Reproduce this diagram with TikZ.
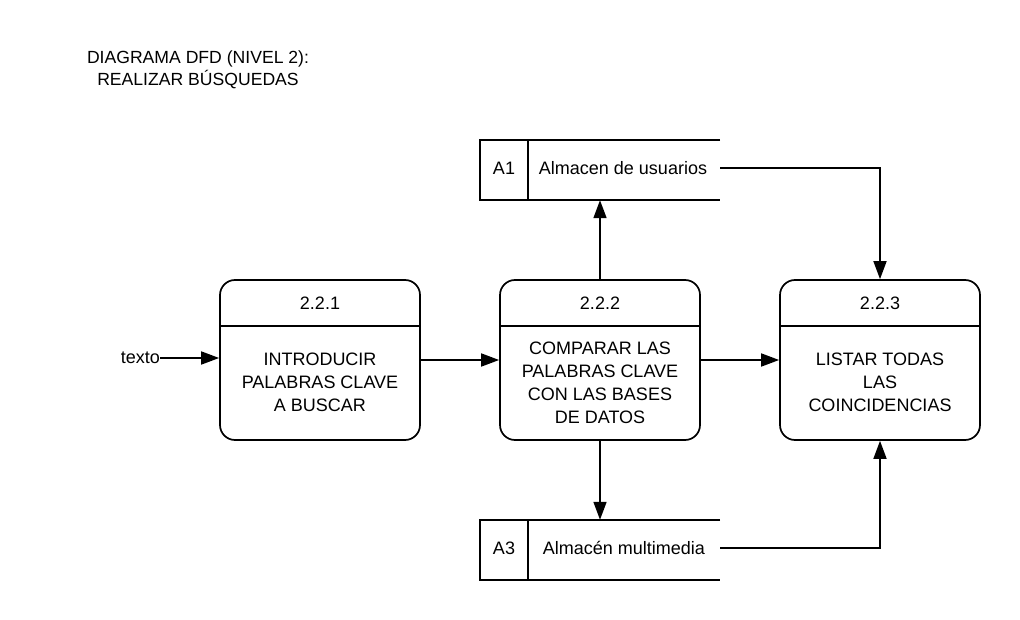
\documentclass[tikz,border=0pt]{standalone}
\usepackage{fontspec}
\setmainfont{Liberation Sans}
\usetikzlibrary{arrows.meta}

\tikzset{
  proc/.style={draw, line width=1.7pt, rounded corners=15pt, minimum width=200pt, minimum height=160pt},
  store/.style={minimum width=240pt, minimum height=60pt, inner sep=0pt},
  txt/.style={align=center, font=\fontsize{18}{23}\selectfont},
  flow/.style={line width=1.7pt, -{Triangle[length=18pt, width=13pt]}},
  edge/.style={line width=1.7pt}
}

\begin{document}
\begin{tikzpicture}[x=1pt, y=-1pt]
  \useasboundingbox (0,0) rectangle (1020,620);
  \node[txt, font=\fontsize{17.6}{22}\selectfont] (title) at (198,70) {DIAGRAMA DFD (NIVEL 2):\\REALIZAR BÚSQUEDAS};

  % processes
  \node[proc] (p1) at (320,360) {};
  \node[proc] (p2) at (600,360) {};
  \node[proc] (p3) at (880,360) {};
  \foreach \p in {p1, p2, p3}
    \draw[edge] ([yshift=-47pt]\p.north west) -- ([yshift=-47pt]\p.north east);
  \node[txt] (n1) at (320,303) {2.2.1};
  \node[txt] (n2) at (600,303) {2.2.2};
  \node[txt] (n3) at (880,303) {2.2.3};
  \node[txt] (b1) at (320,382) {INTRODUCIR\\PALABRAS CLAVE\\A BUSCAR};
  \node[txt] (b2) at (600,383) {COMPARAR LAS\\PALABRAS CLAVE\\CON LAS BASES\\DE DATOS};
  \node[txt] (b3) at (880,382) {LISTAR TODAS\\LAS\\COINCIDENCIAS};

  % data stores
  \node[store] (a1) at (600,170) {};
  \node[store] (a3) at (600,550) {};
  \foreach \s in {a1, a3} {
    \draw[edge] (\s.north east) -- (\s.north west) -- (\s.south west) -- (\s.south east);
    \draw[edge] ([xshift=48pt]\s.north west) -- ([xshift=48pt]\s.south west);
  }
  \node[txt] (a1id) at (504,168) {A1};
  \node[txt] (a1lbl) at (623,168) {Almacen de usuarios};
  \node[txt] (a3id) at (504,548) {A3};
  \node[txt] (a3lbl) at (624,548) {Almacén multimedia};

  % flows
  \node[txt, anchor=east, inner sep=0pt] (in) at (160,358) {texto};
  \draw[flow] (in.east) -- (in.east -| p1.west);
  \draw[flow] (p1.east) -- (p2.west);
  \draw[flow] (p2.east) -- (p3.west);
  \draw[flow] (p2.north) -- (a1.south);
  \draw[flow] (p2.south) -- (a3.north);
  \draw[flow] ([yshift=2pt]a1.east) -| (p3.north);
  \draw[flow] ([yshift=2pt]a3.east) -| (p3.south);
\end{tikzpicture}
\end{document}
